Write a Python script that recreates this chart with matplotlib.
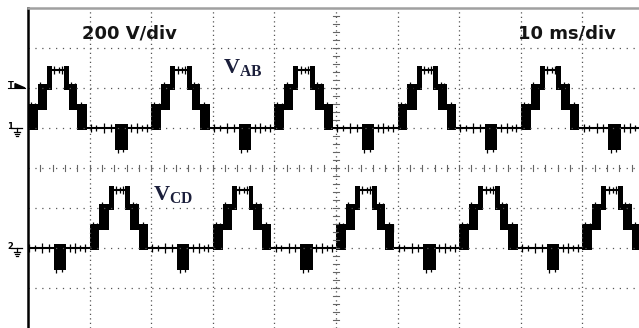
import matplotlib.pyplot as plt
import numpy as np
from matplotlib.patches import Polygon

plt.rcParams['mathtext.fontset'] = 'custom'
plt.rcParams['mathtext.bf'] = 'Liberation Serif:bold'
plt.rcParams['mathtext.rm'] = 'Liberation Serif'

# scope settings
volts_per_div = 200
ms_per_div = 10
screen_ms = 99.2          # visible part of the 10 division screen
ch1_zero = 200            # V, screen position of the V_AB ground
ch2_zero = -400           # V, screen position of the V_CD ground
trigger_level = 400

# one 20 ms period of the staircase (ms from the rising edge)
seg_start = [0.0, 1.6, 3.1, 3.9, 5.8, 6.6, 8.0, 9.5, 14.2, 16.2]
seg_end = [1.6, 3.1, 3.9, 5.8, 6.6, 8.0, 9.5, 14.2, 16.2, 20.0]
seg_low = [0, 100, 200, 290, 200, 100, 0, 0, -100, 0]
seg_high = [100, 200, 290, 290, 290, 200, 100, 0, 0, 0]

# rising edges of the two traces (ms)
vab_edges = [0, 20, 40, 60, 80]
vcd_edges = [-10, 10, 30, 50, 70, 90]

# switching spikes on the flat parts: time from edge (ms), level (V), height (V)
spike_t = [0.5, 1.2, 2.0, 2.7, 4.3, 5.0, 5.5, 7.0, 7.6, 8.6, 9.2,
           10.2, 11.1, 12.3, 13.4, 14.6, 15.5, 16.8, 17.7, 18.5, 19.3]
spike_lvl = [100, 100, 200, 200, 290, 290, 290, 200, 200, 100, 100,
             0, 0, 0, 0, -100, -100, 0, 0, 0, 0]
spike_h = [30, 25, 28, 22, 18, 14, 20, 30, 24, 28, 20,
           22, 16, 25, 18, 25, 22, 20, 24, 15, 22]


def draw_trace(ax, edges, zero):
    for e in edges:
        for s, f, lo, hi in zip(seg_start, seg_end, seg_low, seg_high):
            if lo == hi:
                ax.plot([e + s, e + f], [zero + lo, zero + lo], color='black', lw=1.5,
                        solid_capstyle='butt')
            else:
                ax.fill_between([e + s, e + f], zero + lo - 10, zero + hi + 18,
                                color='black', lw=0)
        for t, lvl, h in zip(spike_t, spike_lvl, spike_h):
            ax.vlines(e + t, zero + lvl - h, zero + lvl + h, color='black', lw=0.9)


fig = plt.figure(figsize=(6.39, 3.28), dpi=100)
ax = fig.add_axes([28 / 639, 0, (639 - 28) / 639, 320 / 328])
ax.set_xlim(0, screen_ms)
ax.set_ylim(-4 * volts_per_div, 4 * volts_per_div)
ax.set_xticks([])
ax.set_yticks([])
for side in ['right', 'bottom']:
    ax.spines[side].set_visible(False)
ax.spines['left'].set_color('black')
ax.spines['left'].set_linewidth(1.8)
ax.spines['top'].set_color('#a0a0a0')
ax.spines['top'].set_linewidth(1.8)

# dotted graticule
for k in range(1, 10):
    ax.axvline(k * ms_per_div, color='#555555', lw=0.9, ls=(0, (1, 2.6)))
for k in range(-3, 4):
    ax.axhline(k * volts_per_div, color='#555555', lw=0.9, ls=(0, (1, 4.5)))

# minor ticks on the centre axes
for t in np.arange(0, 100, ms_per_div / 5):
    ax.plot([t, t], [-13, 13], color='#666666', lw=0.8)
for v in np.arange(-800, 801, volts_per_div / 5):
    ax.plot([50 - 0.5, 50 + 0.5], [v, v], color='#666666', lw=0.8)

draw_trace(ax, vab_edges, ch1_zero)
draw_trace(ax, vcd_edges, ch2_zero)

ax.text(8.8, 675, '200 V/div', fontsize=13, fontweight='bold',
        color='#141414', ha='left', va='center')
ax.text(79.6, 675, '10 ms/div', fontsize=13, fontweight='bold',
        color='#141414', ha='left', va='center')

ax.text(31.6, 475, r'$\mathbf{V}_{\mathbf{AB}}$', fontsize=16,
        color='#1b1f3b', ha='left', va='baseline')
ax.text(20.3, -160, r'$\mathbf{V}_{\mathbf{CD}}$', fontsize=16,
        color='#1b1f3b', ha='left', va='baseline')

# channel and trigger markers left of the screen
mk = fig.add_axes([0, 0, 28 / 639, 320 / 328])
mk.set_xlim(0, 28)
mk.set_ylim(-800, 800)
mk.axis('off')

mk.text(8, trigger_level + 12, 'T', fontsize=6, fontweight='bold', ha='left', va='center')
mk.add_patch(Polygon([[15, trigger_level], [25, trigger_level], [15, trigger_level + 22]],
                     closed=True, color='black'))
mk.plot([8, 25], [trigger_level, trigger_level], color='black', lw=0.8)


def ground(label, zero):
    mk.text(7, zero + 6, label, fontsize=6, fontweight='bold', ha='left', va='center')
    mk.plot([11, 22], [zero, zero], color='black', lw=0.9)
    mk.plot([17, 17], [zero, zero - 22], color='black', lw=0.9)
    mk.plot([14, 20], [zero - 22, zero - 22], color='black', lw=0.9)
    mk.plot([15, 19], [zero - 32, zero - 32], color='black', lw=0.9)
    mk.plot([16, 18], [zero - 42, zero - 42], color='black', lw=0.9)


ground('1', ch1_zero)
ground('2', ch2_zero)

fig.savefig('out.png', dpi=100)
